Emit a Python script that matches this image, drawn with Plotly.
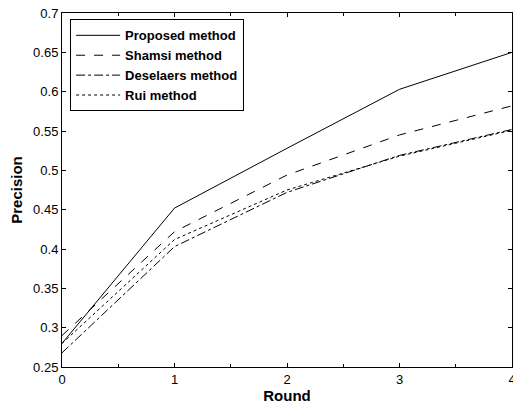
import plotly.graph_objects as go

rounds = [0, 1, 2, 3, 4]
proposed = [0.280, 0.452, 0.528, 0.603, 0.650]
shamsi = [0.290, 0.422, 0.494, 0.545, 0.582]
deselaers = [0.268, 0.403, 0.472, 0.519, 0.552]
rui = [0.280, 0.412, 0.475, 0.518, 0.551]

names = ["Proposed method", "Shamsi method", "Deselaers method", "Rui method"]
series = [proposed, shamsi, deselaers, rui]
dashes = ["solid", "dash", "dashdot", "dot"]

fig = go.Figure()
for n, s, d in zip(names, series, dashes):
    fig.add_trace(go.Scatter(x=rounds, y=s, mode="lines", name="<b>" + n + "</b>",
                             line=dict(color="black", width=1, dash=d)))

axis_common = dict(showline=True, linecolor="black", linewidth=1, mirror="ticks",
                   ticks="inside", ticklen=4, tickcolor="black", showgrid=False,
                   zeroline=False, automargin=False, ticklabeloverflow="allow",
                   tickfont=dict(family="Liberation Sans, Arial", size=13, color="black"))

fig.update_layout(
    width=513, height=407,
    margin=dict(l=62, r=1, t=13, b=40),
    paper_bgcolor="white", plot_bgcolor="white",
    xaxis=dict(range=[0, 4], dtick=1, tick0=0,
               minor=dict(dtick=0.5, ticks="inside", ticklen=3, tickcolor="black"),
               title=dict(text="<b>Round</b>", standoff=2,
                          font=dict(family="Liberation Sans, Arial", size=15, color="black")),
               **axis_common),
    yaxis=dict(range=[0.25, 0.7], dtick=0.05, tick0=0.25,
               title=dict(text="<b>Precision</b>", standoff=6,
                          font=dict(family="Liberation Sans, Arial", size=15, color="black")),
               **axis_common),
    legend=dict(x=0.018, y=0.982, xanchor="left", yanchor="top",
                bordercolor="black", borderwidth=1, bgcolor="white",
                font=dict(family="Liberation Sans, Arial", size=13, color="black"),
                tracegroupgap=0, itemwidth=44),
    showlegend=True,
)

fig.write_html("out.html", config={"displayModeBar": False},
               post_script="document.body.style.margin='0';document.body.style.overflow='hidden';")
